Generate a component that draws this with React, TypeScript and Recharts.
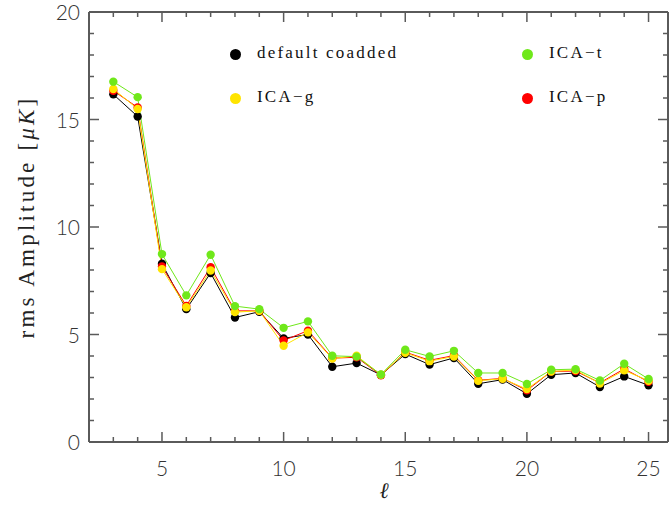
import React from 'react';
import { LineChart, Line, XAxis, YAxis, Label } from 'recharts';

// multipole l
const ells = [3, 4, 5, 6, 7, 8, 9, 10, 11, 12, 13, 14, 15, 16, 17, 18, 19, 20, 21, 22, 23, 24, 25];

// rms amplitude [uK] per map
const defaultCoadded = [16.17, 15.14, 8.29, 6.18, 7.86, 5.79, 6.06, 4.82, 5.0, 3.5, 3.67, 3.12, 4.09, 3.6, 3.91, 2.71, 2.9, 2.24, 3.13, 3.21, 2.56, 3.05, 2.64];
const icaG = [16.42, 15.49, 8.04, 6.27, 7.98, 6.04, 6.1, 4.48, 5.1, 3.88, 4.01, 3.13, 4.15, 3.76, 3.98, 2.85, 2.94, 2.46, 3.28, 3.35, 2.72, 3.33, 2.85];
const icaP = [16.34, 15.56, 8.16, 6.33, 8.13, 6.1, 6.1, 4.72, 5.18, 3.9, 3.94, 3.1, 4.18, 3.8, 4.02, 2.87, 2.96, 2.4, 3.28, 3.3, 2.75, 3.4, 2.8];
const icaT = [16.76, 16.04, 8.74, 6.82, 8.71, 6.32, 6.18, 5.31, 5.61, 4.01, 3.97, 3.14, 4.29, 3.98, 4.24, 3.21, 3.21, 2.7, 3.36, 3.39, 2.86, 3.64, 2.93];

const xTicks = [3, 4, 5, 6, 7, 8, 9, 10, 11, 12, 13, 14, 15, 16, 17, 18, 19, 20, 21, 22, 23, 24, 25];
const yTicks = [0, 1, 2, 3, 4, 5, 6, 7, 8, 9, 10, 11, 12, 13, 14, 15, 16, 17, 18, 19, 20];

const data = ells.map((l, i) => ({
  l,
  def: defaultCoadded[i],
  g: icaG[i],
  p: icaP[i],
  t: icaT[i],
}));

const AX = '#5a5a5a';
const TICK_FONT = { fontFamily: 'Lato, "DejaVu Sans", sans-serif', fontWeight: 300, fontSize: 21, fill: '#333' };
const SERIF = '"Liberation Serif", "DejaVu Serif", serif';

const BottomTick = (props: any) => {
  const { x, y, payload } = props;
  const major = payload.value % 5 === 0;
  return (
    <g>
      <line x1={x} x2={x} y1={y} y2={y - (major ? 10 : 5)} stroke={AX} strokeWidth={1.5} />
      {major && (
        <text x={x} y={y + 34} textAnchor="middle" {...TICK_FONT}>
          {payload.value}
        </text>
      )}
    </g>
  );
};

const TopTick = (props: any) => {
  const { x, y, payload } = props;
  const major = payload.value % 5 === 0;
  return <line x1={x} x2={x} y1={y} y2={y + (major ? 10 : 5)} stroke={AX} strokeWidth={1.5} />;
};

const LeftTick = (props: any) => {
  const { x, y, payload } = props;
  const major = payload.value % 5 === 0;
  return (
    <g>
      <line x1={x} x2={x + (major ? 10 : 5)} y1={y} y2={y} stroke={AX} strokeWidth={1.5} />
      {major && (
        <text x={x - 9} y={y + 8} textAnchor="end" {...TICK_FONT}>
          {payload.value}
        </text>
      )}
    </g>
  );
};

const RightTick = (props: any) => {
  const { x, y, payload } = props;
  const major = payload.value % 5 === 0;
  return <line x1={x} x2={x - (major ? 10 : 5)} y1={y} y2={y} stroke={AX} strokeWidth={1.5} />;
};

const legendItems = [
  { name: 'default coadded', color: '#000000', x: 235, y: 54 },
  { name: 'ICA\u2212t', color: '#6fe81a', x: 527, y: 54 },
  { name: 'ICA\u2212g', color: '#ffe400', x: 235, y: 98 },
  { name: 'ICA\u2212p', color: '#ff0000', x: 527, y: 98 },
];

const dot = (c: string) => ({ r: 4.2, fill: c, stroke: c, strokeWidth: 0 });

export default function App() {
  return (
    <div style={{ position: 'absolute', left: 0, top: 0, width: 670, height: 506, background: '#fff' }}>
      <LineChart width={670} height={506} data={data} margin={{ top: 10, right: 0, bottom: 24, left: 29 }}>
        <XAxis
          dataKey="l"
          type="number"
          domain={[2, 25.8]}
          allowDataOverflow
          ticks={xTicks}
          interval={0}
          height={40}
          tickSize={0}
          tickMargin={0}
          tick={<BottomTick />}
          axisLine={{ stroke: AX, strokeWidth: 2 }}
        >
          <Label
            content={() => (
              <text x={384} y={498} textAnchor="middle" fontFamily={SERIF} fontStyle="italic" fontSize={22} fill="#222">
                ℓ
              </text>
            )}
          />
        </XAxis>
        <XAxis
          xAxisId="top"
          orientation="top"
          dataKey="l"
          type="number"
          domain={[2, 25.8]}
          allowDataOverflow
          ticks={xTicks}
          interval={0}
          height={2}
          tickSize={0}
          tickMargin={0}
          tick={<TopTick />}
          axisLine={{ stroke: AX, strokeWidth: 2 }}
        />
        <YAxis
          type="number"
          domain={[0, 20]}
          allowDataOverflow
          ticks={yTicks}
          interval={0}
          width={60}
          tickSize={0}
          tickMargin={0}
          tick={<LeftTick />}
          axisLine={{ stroke: AX, strokeWidth: 2 }}
        >
          <Label
            content={() => (
              <text
                x={0}
                y={0}
                transform="translate(34 217) rotate(-90)"
                textAnchor="middle"
                fontFamily={SERIF}
                fontSize={23}
                letterSpacing={3.2}
                fill="#222"
              >
                rms Amplitude [<tspan fontStyle="italic">μK</tspan>]
              </text>
            )}
          />
        </YAxis>
        <YAxis
          yAxisId="right"
          orientation="right"
          type="number"
          domain={[0, 20]}
          allowDataOverflow
          ticks={yTicks}
          interval={0}
          width={2}
          tickSize={0}
          tickMargin={0}
          tick={<RightTick />}
          axisLine={{ stroke: AX, strokeWidth: 2 }}
        />
        <Line type="linear" dataKey="def" stroke="#000000" strokeWidth={1} dot={dot('#000000')} isAnimationActive={false} />
        <Line type="linear" dataKey="p" stroke="#ff0000" strokeWidth={1} dot={dot('#ff0000')} isAnimationActive={false} />
        <Line type="linear" dataKey="g" stroke="#ffe400" strokeWidth={1} dot={dot('#ffe400')} isAnimationActive={false} />
        <Line type="linear" dataKey="t" stroke="#6fe81a" strokeWidth={1} dot={dot('#6fe81a')} isAnimationActive={false} />
      </LineChart>
      {legendItems.map((it) => (
        <div key={it.name}>
          <div
            style={{
              position: 'absolute',
              left: it.x - 5.5,
              top: it.y - 5.5,
              width: 11,
              height: 11,
              borderRadius: '50%',
              background: it.color,
            }}
          />
          <div
            style={{
              position: 'absolute',
              left: it.x + 22,
              top: it.y - 13,
              fontFamily: SERIF,
              fontSize: 17,
              letterSpacing: 2.2,
              color: '#111',
              whiteSpace: 'nowrap',
              lineHeight: '24px',
            }}
          >
            {it.name}
          </div>
        </div>
      ))}
    </div>
  );
}
